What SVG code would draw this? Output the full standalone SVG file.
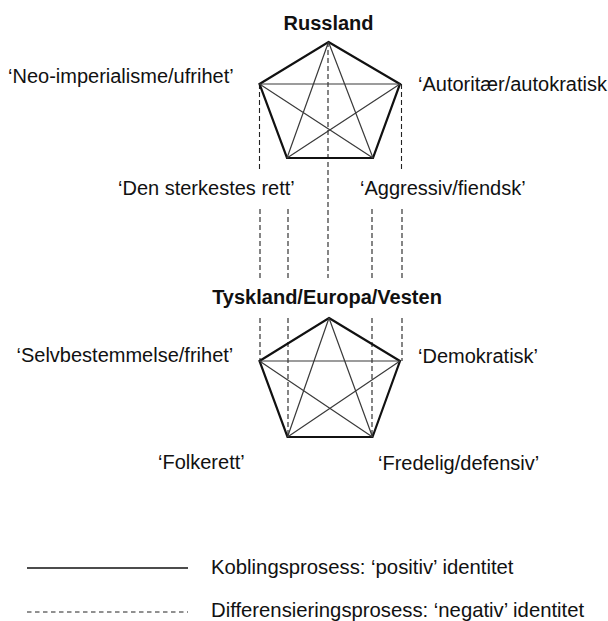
<svg xmlns="http://www.w3.org/2000/svg" width="608" height="621" viewBox="0 0 608 621">
<style>
text{font-family:"Liberation Sans",Arial,Helvetica,sans-serif;font-size:20px;fill:#111}
.title{font-weight:bold;text-anchor:middle}
.outline{fill:none;stroke:#111;stroke-width:2.2;stroke-linejoin:miter}
.star{fill:none;stroke:#3a3a3a;stroke-width:1.2}
.dash{fill:none;stroke:#222;stroke-width:1.1;stroke-dasharray:5 3}
.solid{fill:none;stroke:#111;stroke-width:1.4}
.legend{font-size:20.3px}
</style>
<rect width="608" height="621" fill="#fff"/>
<g id="connectors">
<line class="dash" x1="259.5" y1="84" x2="259.5" y2="169"/>
<line class="dash" x1="401.5" y1="84" x2="401.5" y2="169"/>
<line class="dash" x1="328" y1="42" x2="328" y2="278"/>
<line class="dash" x1="260" y1="209" x2="260" y2="278"/>
<line class="dash" x1="288" y1="209" x2="288" y2="278"/>
<line class="dash" x1="372" y1="209" x2="372" y2="278"/>
<line class="dash" x1="402" y1="209" x2="402" y2="278"/>
<line class="dash" x1="260" y1="318" x2="260" y2="361"/>
<line class="dash" x1="402" y1="318" x2="402" y2="361"/>
<line class="dash" x1="288" y1="318" x2="288" y2="437"/>
<line class="dash" x1="372" y1="318" x2="372" y2="437"/>
</g>
<g id="russland">
<text class="title" x="328.5" y="29.5">Russland</text>
<polygon class="outline" points="328.5,42 400,84 373,158 287,158 259.5,84"/>
<path class="star" d="M328.5,42L287,158M328.5,42L373,158M259.5,84H400M259.5,84L373,158M400,84L287,158"/>
</g>
<g id="russland-labels">
<text x="8" y="82.5">‘Neo-imperialisme/ufrihet’</text>
<text x="418" y="90.5">‘Autoritær/autokratisk</text>
<text x="118" y="195">‘Den sterkestes rett’</text>
<text x="360" y="195">‘Aggressiv/fiendsk’</text>
</g>
<g id="tyskland">
<text class="title" x="327" y="304">Tyskland/Europa/Vesten</text>
<polygon class="outline" points="329,318 400,361 372.5,437 287.5,437 259.5,361"/>
<path class="star" d="M329,318L287.5,437M329,318L372.5,437M259.5,361H400M259.5,361L372.5,437M400,361L287.5,437"/>
</g>
<g id="tyskland-labels">
<text x="16.5" y="362">‘Selvbestemmelse/frihet’</text>
<text x="418" y="363">‘Demokratisk’</text>
<text x="158" y="469">‘Folkerett’</text>
<text x="378" y="469.5">‘Fredelig/defensiv’</text>
</g>
<g id="legend">
<line class="solid" x1="27" y1="568" x2="188" y2="568"/>
<text class="legend" x="211" y="574">Koblingsprosess: ‘positiv’ identitet</text>
<line class="dash" x1="27" y1="612" x2="188" y2="612" style="stroke-width:1;stroke-dasharray:4.5 3.5"/>
<text class="legend" x="211" y="617">Differensieringsprosess: ‘negativ’ identitet</text>
</g>
</svg>
